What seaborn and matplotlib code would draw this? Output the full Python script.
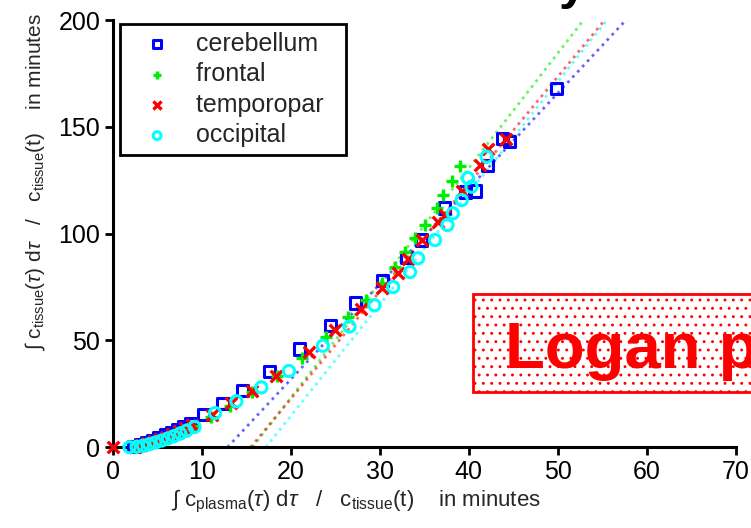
import numpy as np
import pandas as pd
import matplotlib
matplotlib.use("Agg")
import matplotlib.pyplot as plt
import seaborn as sns
from matplotlib.patches import Rectangle

# Logan plot data (x: int cp / ct, y: int ct / ct, minutes)
cereb_x = [2.4, 3.1, 3.8, 4.5, 5.2, 5.9, 6.6, 7.3, 8.0, 8.7, 10.2, 12.4, 14.6, 17.6, 21.0,
           24.5, 27.3, 30.3, 33.0, 34.7, 37.3, 39.6, 40.7, 42.1, 43.8, 44.6, 49.8]
cereb_y = [0.3, 1.2, 2.2, 3.3, 4.5, 5.7, 7.0, 8.3, 9.6, 11.0, 15.5, 20.5, 26.5, 35.5, 46.0,
           57.0, 67.5, 78.0, 89.0, 97.0, 112.0, 119.5, 120.0, 132.0, 144.5, 143.0, 168.0]

front_x = [2.6, 3.3, 4.0, 4.7, 5.4, 6.1, 6.8, 7.5, 8.2, 9.0, 11.0, 13.2, 15.6, 18.5, 21.3,
           24.0, 26.4, 28.5, 30.3, 31.7, 32.8, 33.9, 35.1, 36.4, 37.1, 38.1, 39.0]
front_y = [0.2, 0.8, 1.6, 2.5, 3.5, 4.6, 5.8, 7.0, 8.3, 9.8, 14.0, 19.5, 26.0, 33.5, 42.0,
           51.5, 61.0, 69.0, 77.0, 84.5, 91.5, 98.0, 104.0, 112.0, 118.0, 124.5, 131.5]

temp_x = [0.0, 2.5, 3.2, 3.9, 4.6, 5.3, 6.0, 6.7, 7.4, 8.1, 8.9, 11.2, 13.3, 15.6, 18.4,
          22.0, 25.0, 27.9, 30.3, 32.0, 33.2, 34.7, 36.5, 37.3, 39.2, 41.2, 42.1, 44.2]
temp_y = [0.0, 0.3, 1.0, 1.9, 2.9, 3.9, 5.0, 6.2, 7.5, 8.8, 10.3, 15.0, 20.5, 26.5, 33.5,
          44.5, 55.0, 64.5, 74.5, 81.5, 88.0, 97.0, 105.5, 108.5, 120.0, 132.0, 139.5, 144.5]

occ_x = [1.9, 2.7, 3.4, 4.1, 4.8, 5.5, 6.2, 6.9, 7.6, 8.3, 9.2, 11.5, 13.9, 16.7, 19.8,
         23.6, 26.6, 29.4, 31.5, 33.4, 34.3, 36.2, 37.6, 38.2, 39.2, 39.9, 40.3, 42.0]
occ_y = [0.0, 0.2, 0.7, 1.4, 2.2, 3.1, 4.1, 5.2, 6.4, 7.7, 9.5, 16.0, 21.5, 28.0, 35.7,
         47.5, 56.5, 66.5, 75.0, 82.0, 88.5, 97.0, 104.0, 109.5, 115.7, 126.0, 122.0, 136.0]

# linear fits of the late part (slope, x-intercept)
regions = ["cerebellum", "frontal", "temporopar", "occipital"]
fit_slope = [4.47, 5.38, 5.03, 5.22]
fit_x0 = [12.9, 15.7, 15.5, 17.2]

colors = ["#0000ff", "#00ee00", "#ff0000", "#00ffff"]
markers = ["s", "+", "x", "o"]

sns.set_style("white")
plt.rcParams["font.family"] = ["Liberation Sans", "DejaVu Sans"]
plt.rcParams["mathtext.fontset"] = "custom"
plt.rcParams["mathtext.rm"] = "Liberation Sans"
plt.rcParams["mathtext.it"] = "Liberation Sans:italic"
plt.rcParams["hatch.color"] = "#ff0000"
plt.rcParams["hatch.linewidth"] = 0.9

fig = plt.figure(figsize=(7.51, 5.28), dpi=100)
ax = fig.add_axes([0.150, 0.153, 0.830, 0.809])

# dotted fit lines
for slope, x0, col in zip(fit_slope, fit_x0, colors):
    xs = np.linspace(x0, x0 + 202 / slope, 60)
    sns.lineplot(x=xs, y=slope * (xs - x0), color=col, linestyle=(0, (1, 1.6)),
                 linewidth=2, alpha=0.6, ax=ax)

series = [(cereb_x, cereb_y), (front_x, front_y), (temp_x, temp_y), (occ_x, occ_y)]
for (xs, ys), name, col, mk in zip(series, regions, colors, markers):
    df = pd.DataFrame({"x": xs, "y": ys})
    if mk in ("s", "o"):
        sns.scatterplot(data=df, x="x", y="y", marker=mk, s=65, color=col,
                        facecolor="none", edgecolor=col, linewidth=2.2,
                        label=name, ax=ax, clip_on=False, zorder=3)
    else:
        sns.scatterplot(data=df, x="x", y="y", marker=mk, s=70, color=col,
                        linewidth=2.4, label=name, ax=ax, clip_on=False, zorder=3)

ax.set_xlim(0, 70)
ax.set_ylim(0, 200)
ax.set_xticks(range(0, 71, 10))
ax.set_yticks(range(0, 201, 50))
sns.despine(ax=ax)
for sp in ["left", "bottom"]:
    ax.spines[sp].set_linewidth(2.2)
    ax.spines[sp].set_color("black")
ax.tick_params(direction="out", length=6, width=2, labelsize=18, pad=3,
               colors="black", left=True, bottom=True)

ax.set_xlabel(r"$\int\ \mathrm{c}_{\mathrm{plasma}}(\tau)\ \mathrm{d}\tau\ \ \ /\ \ \ "
              r"\mathrm{c}_{\mathrm{tissue}}(\mathrm{t})\ \ \ \ \mathrm{in\ minutes}$",
              fontsize=16)
ax.xaxis.set_label_coords(0.39, -0.095)
ax.set_ylabel(r"$\int\ \mathrm{c}_{\mathrm{tissue}}(\tau)\ \mathrm{d}\tau\ \ \ /\ \ \ "
              r"\mathrm{c}_{\mathrm{tissue}}(\mathrm{t})\ \ \ \ \mathrm{in\ minutes}$",
              fontsize=15)
ax.yaxis.set_label_coords(-0.105, 0.62)

handles, _ = ax.get_legend_handles_labels()
leg = ax.legend(handles, [r + "  " for r in regions], loc="upper left",
                bbox_to_anchor=(0.012, 0.991), fontsize=18,
                frameon=True, fancybox=False, framealpha=1, edgecolor="black",
                markerscale=0.7, handlelength=2.34, handletextpad=0.39,
                labelspacing=0.26, borderpad=0.31, borderaxespad=0)
leg.get_frame().set_linewidth(2)

# "Logan plot" banner, running off the right edge
fig.patches.append(Rectangle((473 / 751, 1 - 392 / 528), 0.5, 98 / 528,
                             transform=fig.transFigure, facecolor="white",
                             edgecolor="#ff0000", linewidth=2, hatch="..", zorder=5))
fig.text(505 / 751, 1 - 368 / 528, "Logan plot", color="#ff0000", fontsize=47,
         fontweight="bold", va="baseline", ha="left", zorder=6)

# bottom of a cut-off title glyph
fig.text(559 / 751, 1.001, "y", color="black", fontsize=36, fontweight="bold",
         va="baseline", ha="left")

fig.savefig("out.png", dpi=100)
